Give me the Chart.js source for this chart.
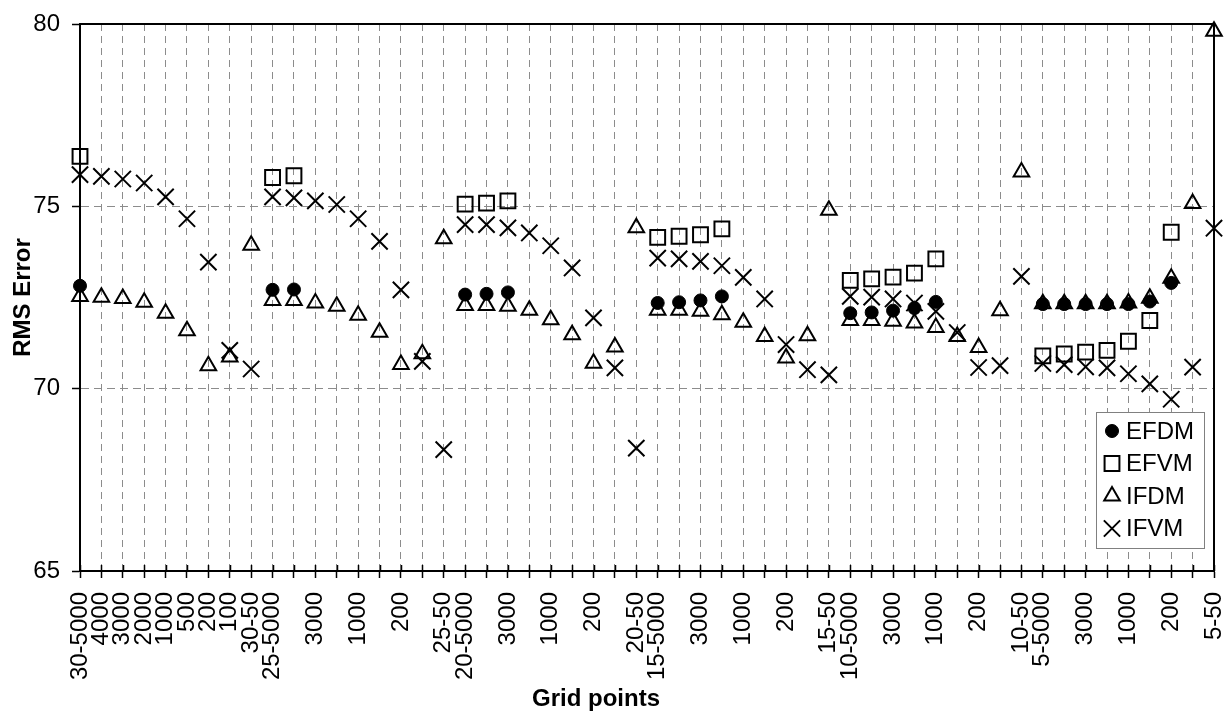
<!DOCTYPE html>
<html>
<head>
<meta charset="utf-8">
<script src="https://cdn.jsdelivr.net/npm/chart.js@4.4.1/dist/chart.umd.min.js"></script>
<style>
  html, body { margin: 0; padding: 0; background: #fff; }
  #wrap { width: 1231px; height: 715px; }
</style>
</head>
<body>
<div id="wrap"><canvas id="grafico" width="1231" height="715"></canvas></div>
<script>
// tick labels along the bottom (only some of them are printed in each block)
const gridLabels = [
  '30-5000', '4000', '3000', '2000', '1000', '500', '200', '100', '30-50',
  '25-5000', '', '3000', '', '1000', '', '200', '', '25-50',
  '20-5000', '', '3000', '', '1000', '', '200', '', '20-50',
  '15-5000', '', '3000', '', '1000', '', '200', '', '15-50',
  '10-5000', '', '3000', '', '1000', '', '200', '', '10-50',
  '5-5000', '', '3000', '', '1000', '', '200', '', '5-50'
];

const efdm = [
  72.82, null, null, null, null, null, null, null, null,
  72.71, 72.72, null, null, null, null, null, null, null,
  72.58, 72.60, 72.64, null, null, null, null, null, null,
  72.35, 72.37, 72.42, 72.53, null, null, null, null, null,
  72.07, 72.09, 72.14, 72.21, 72.38, null, null, null, null,
  72.32, 72.32, 72.32, 72.32, 72.32, 72.39, 72.90, null, null
];

const efvm = [
  76.37, null, null, null, null, null, null, null, null,
  75.79, 75.84, null, null, null, null, null, null, null,
  75.06, 75.09, 75.15, null, null, null, null, null, null,
  74.15, 74.18, 74.22, 74.38, null, null, null, null, null,
  72.97, 73.01, 73.06, 73.17, 73.56, null, null, null, null,
  70.90, 70.95, 71.00, 71.05, 71.30, 71.87, 74.29, null, null
];

const ifdm = [
  72.53, 72.51, 72.47, 72.37, 72.07, 71.59, 70.63, 70.87, 73.93,
  72.42, 72.42, 72.35, 72.26, 72.01, 71.55, 70.66, 70.96, 74.11,
  72.28, 72.28, 72.26, 72.15, 71.89, 71.48, 70.70, 71.14, 74.41,
  72.15, 72.15, 72.12, 72.03, 71.82, 71.43, 70.84, 71.45, 74.89,
  71.87, 71.87, 71.85, 71.80, 71.68, 71.43, 71.13, 72.14, 75.94,
  72.33, 72.33, 72.33, 72.33, 72.35, 72.48, 73.03, 75.08, 79.80
];

const ifvm = [
  75.87, 75.82, 75.75, 75.64, 75.26, 74.66, 73.47, 71.05, 70.54,
  75.26, 75.23, 75.15, 75.05, 74.66, 74.04, 72.71, 70.75, 68.33,
  74.50, 74.50, 74.41, 74.27, 73.92, 73.31, 71.94, 70.57, 68.37,
  73.58, 73.56, 73.49, 73.37, 73.05, 72.46, 71.21, 70.52, 70.38,
  72.53, 72.51, 72.46, 72.35, 72.12, 71.54, 70.58, 70.63, 73.08,
  70.69, 70.66, 70.60, 70.57, 70.41, 70.13, 69.71, 70.59, 74.40
];

const fontFamily = '"Liberation Sans", Arial, sans-serif';
const gridGray = '#8c8c8c';

function serie(label, data, style, radius, fill, width) {
  return {
    label: label,
    data: data,
    showLine: false,
    pointStyle: style,
    pointRadius: radius,
    pointHoverRadius: radius,
    pointBorderWidth: width,
    pointBackgroundColor: fill,
    pointBorderColor: '#000',
    backgroundColor: fill,
    borderColor: '#000',
    borderWidth: width,
    clip: false
  };
}

// frame around the plot, inner tick marks and the x title
const framePlugin = {
  id: 'frame',
  afterDraw(chart) {
    const ctx = chart.ctx;
    const a = chart.chartArea;
    const xs = chart.scales.x;
    ctx.save();
    ctx.strokeStyle = '#000';
    ctx.lineWidth = 1.5;
    ctx.beginPath();
    for (let i = 0; i < gridLabels.length; i++) {
      const px = Math.round(xs.getPixelForTick(i)) + 0.5;
      ctx.moveTo(px, a.bottom);
      ctx.lineTo(px, a.bottom - 6);
    }
    ctx.stroke();
    ctx.lineWidth = 2;
    ctx.strokeRect(a.left, a.top, a.right - a.left, a.bottom - a.top);

    ctx.fillStyle = '#000';
    ctx.font = 'bold 24px ' + fontFamily;
    ctx.textAlign = 'center';
    ctx.textBaseline = 'middle';
    ctx.fillText('Grid points', 596, 699);
    ctx.restore();
  }
};

// legend box inside the plot, lower right corner
const legendPlugin = {
  id: 'insideLegend',
  afterDraw(chart) {
    const ctx = chart.ctx;
    const a = chart.chartArea;
    const w = 108, h = 136;
    const left = a.right - 10 - w;
    const top = a.bottom - 23 - h;
    ctx.save();
    ctx.fillStyle = '#fff';
    ctx.fillRect(left, top, w, h);
    ctx.strokeStyle = '#808080';
    ctx.lineWidth = 1;
    ctx.strokeRect(Math.round(left) + 0.5, Math.round(top) + 0.5, w, h);
    chart.data.datasets.forEach((ds, i) => {
      const y = top + 19 + i * 32.5;
      ctx.fillStyle = ds.backgroundColor;
      ctx.strokeStyle = '#000';
      ctx.lineWidth = ds.borderWidth;
      Chart.helpers.drawPoint(ctx, {
        pointStyle: ds.pointStyle,
        radius: ds.pointRadius,
        borderWidth: ds.borderWidth,
        rotation: 0
      }, left + 16, y);
      ctx.fillStyle = '#000';
      ctx.font = '24px ' + fontFamily;
      ctx.textAlign = 'left';
      ctx.textBaseline = 'middle';
      ctx.fillText(ds.label, left + 30, y + 1);
    });
    ctx.restore();
  }
};

const canvas = document.getElementById('grafico');
new Chart(canvas.getContext('2d'), {
  type: 'line',
  data: {
    labels: gridLabels,
    datasets: [
      serie('EFDM', efdm, 'circle', 6.5, '#000', 1),
      serie('EFVM', efvm, 'rect', 10.5, 'rgba(0,0,0,0)', 2),
      serie('IFDM', ifdm, 'triangle', 9, 'rgba(0,0,0,0)', 2),
      serie('IFVM', ifvm, 'crossRot', 11.5, 'rgba(0,0,0,0)', 2)
    ]
  },
  options: {
    responsive: false,
    animation: false,
    devicePixelRatio: 1,
    events: [],
    layout: { padding: { top: 24, right: 17, left: 0, bottom: 0 } },
    plugins: {
      legend: { display: false },
      tooltip: { enabled: false }
    },
    scales: {
      x: {
        type: 'category',
        offset: false,
        grid: {
          color: gridGray,
          lineWidth: 1,
          drawTicks: true,
          tickLength: 7,
          tickColor: '#000',
          tickWidth: 1.5,
          tickBorderDash: []
        },
        border: { display: true, color: '#000', width: 2, dash: [7, 5] },
        ticks: {
          autoSkip: false,
          minRotation: 90,
          maxRotation: 90,
          padding: 14,
          color: '#000',
          font: { family: fontFamily, size: 24 }
        },
        afterFit(scale) {
          scale.height = 144;
          scale.paddingLeft = 0;
          scale.paddingRight = 0;
        }
      },
      y: {
        min: 65,
        max: 80,
        grid: {
          color: gridGray,
          lineWidth: 1,
          tickLength: 8,
          tickColor: '#000',
          tickWidth: 1.5,
          tickBorderDash: []
        },
        border: { display: true, color: '#000', width: 2, dash: [8, 5] },
        ticks: {
          stepSize: 5,
          padding: 12,
          color: '#000',
          font: { family: fontFamily, size: 24 }
        },
        title: {
          display: true,
          text: 'RMS Error',
          color: '#000',
          font: { family: fontFamily, size: 24, weight: 'bold' },
          padding: { top: 9, bottom: 0 }
        },
        afterFit(scale) {
          scale.width = 80;
          scale.paddingTop = 0;
          scale.paddingBottom = 0;
        }
      }
    }
  },
  plugins: [framePlugin, legendPlugin]
});
</script>
</body>
</html>
